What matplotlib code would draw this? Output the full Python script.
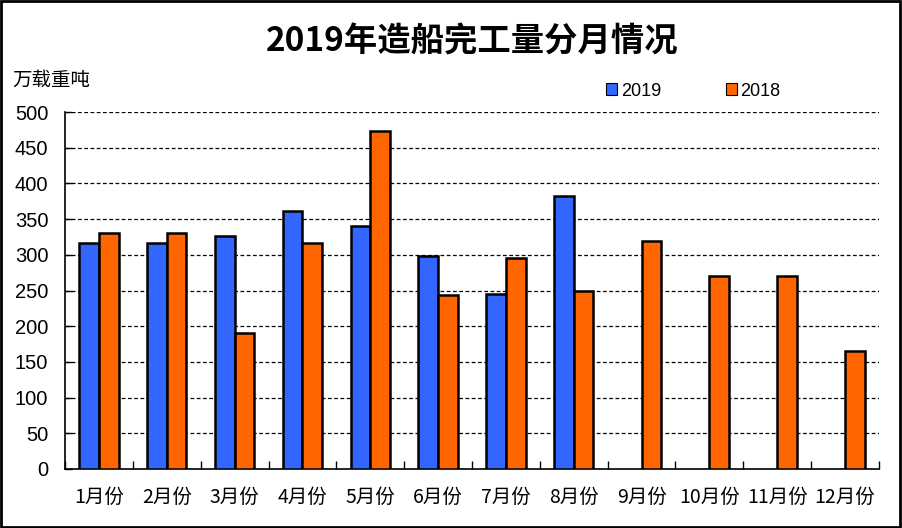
import matplotlib
matplotlib.use("Agg")
import matplotlib.pyplot as plt
import numpy as np
from matplotlib.patches import Rectangle, Patch

plt.rcParams['font.family'] = ['Noto Sans CJK SC', 'DejaVu Sans']

months = ["1月份", "2月份", "3月份", "4月份", "5月份", "6月份",
          "7月份", "8月份", "9月份", "10月份", "11月份", "12月份"]
y2019 = [317, 317, 326, 362, 341, 299, 245, 383, np.nan, np.nan, np.nan, np.nan]
y2018 = [331, 331, 190, 317, 473, 243, 295, 249, 320, 271, 270, 165]
yticks = [0, 50, 100, 150, 200, 250, 300, 350, 400, 450, 500]

c2019 = "#3366FF"
c2018 = "#FF6600"

fig = plt.figure(figsize=(9.02, 5.28), dpi=100)
ax = fig.add_axes([65/902, 1-469/528, (879-65)/902, (469-112)/528])

x = np.arange(len(months))
w = 0.29
ax.bar(x - w/2, y2019, width=w, color=c2019, edgecolor="black", linewidth=1.8, label="2019", zorder=3)
ax.bar(x + w/2, y2018, width=w, color=c2018, edgecolor="black", linewidth=1.8, label="2018", zorder=3)

ax.set_xlim(-0.5, len(months) - 0.5)
ax.set_ylim(0, 500)
ax.set_yticks(yticks)
ax.set_yticklabels([str(v) for v in yticks], fontsize=14.5, family=['Liberation Sans', 'DejaVu Sans'])
for v in yticks[1:]:
    ax.axhline(v, color="black", lw=0.9, ls=(0, (3, 2)), zorder=1)

ax.set_xticks(x)
ax.set_xticklabels(months, fontsize=14)
ax.set_xticks(np.arange(len(months) + 1) - 0.5, minor=True)
ax.tick_params(axis='x', which='major', length=0, pad=13)
ax.tick_params(axis='x', which='minor', direction='in', length=6, width=1, color='black')
ax.tick_params(axis='y', direction='in', length=5, width=1, pad=12)

for s in ["top", "right"]:
    ax.spines[s].set_visible(False)
for s in ["left", "bottom"]:
    ax.spines[s].set_linewidth(1.2)
    ax.spines[s].set_color("black")

fig.text(472/902, 1-42/528, "2019年造船完工量分月情况", ha="center", va="center",
         fontsize=24, fontweight="bold")
fig.text(12/902, 1-80/528, "万载重吨", ha="left", va="center", fontsize=14)

handles = [Patch(facecolor=c2019, edgecolor="black", linewidth=0.8),
           Patch(facecolor=c2018, edgecolor="black", linewidth=0.8)]
fig.legend(handles, ["2019", "2018"], loc="center left", bbox_to_anchor=(590/902, 1-91/528),
           ncol=2, frameon=False, handlelength=0.6, handleheight=0.6,
           handletextpad=0.2, columnspacing=3.6,
           prop={'family': ['Liberation Sans', 'DejaVu Sans'], 'size': 13})

fig.patches.append(Rectangle((0.001, 0.001), 0.997, 0.997, transform=fig.transFigure,
                             fill=False, edgecolor="black", linewidth=2))

fig.savefig("out.png", dpi=100)
